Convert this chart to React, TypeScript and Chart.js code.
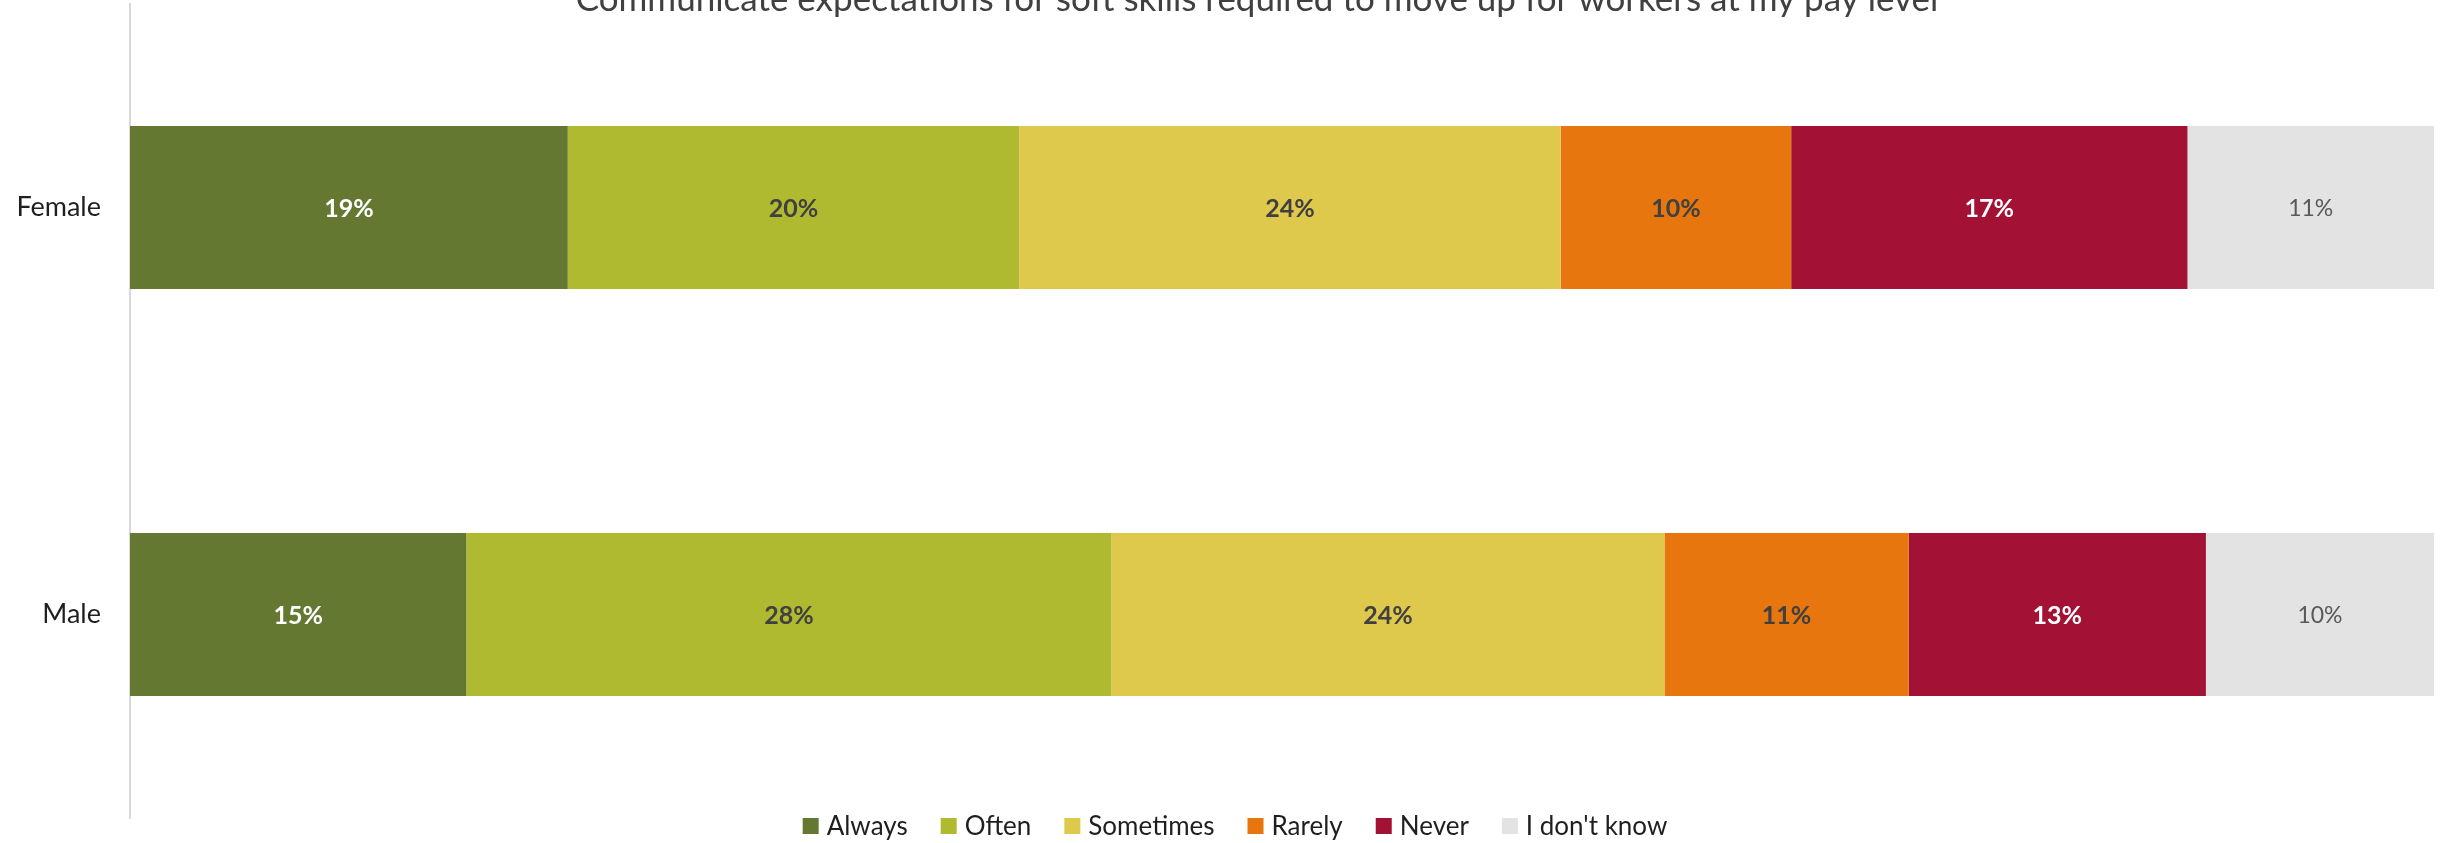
import React, { useEffect, useRef } from 'react';
import { Chart, registerables } from 'chart.js';

Chart.register(...registerables);

const categories = ['Female', 'Male'];
const seriesNames = ['Always', 'Often', 'Sometimes', 'Rarely', 'Never', "I don't know"];
const always = [19.0, 14.6];
const often = [19.6, 28.0];
const sometimes = [23.5, 24.0];
const rarely = [10.0, 10.6];
const never = [17.2, 12.9];
const dontKnow = [10.7, 9.9];
const seriesValues = [always, often, sometimes, rarely, never, dontKnow];
const seriesColors = ['#657832', '#B0BA31', '#DEC94C', '#E6760D', '#A31134', '#E3E3E3'];
const labelColors = ['#FFFFFF', '#404040', '#404040', '#404040', '#FFFFFF', '#595959'];
const labelBold = [true, true, true, true, true, false];
const titleText =
  'Communicate expectations for soft skills required to move up for workers at my pay level';

const FONT = 'Lato, "Open Sans", sans-serif';
const CANVAS_W = 2446;
const CANVAS_H = 847;
const CANVAS_TOP = -4;

const titlePlugin = {
  id: 'cutTitle',
  afterDraw(chart: any) {
    const ctx = chart.ctx;
    ctx.save();
    ctx.font = `35px ${FONT}`;
    ctx.fillStyle = '#404040';
    ctx.textAlign = 'center';
    ctx.textBaseline = 'alphabetic';
    ctx.fillText(titleText, 1257, 11 - CANVAS_TOP);
    ctx.restore();
  },
};

const dataLabelPlugin = {
  id: 'dataLabels',
  afterDatasetsDraw(chart: any) {
    const ctx = chart.ctx;
    ctx.save();
    ctx.textAlign = 'center';
    ctx.textBaseline = 'middle';
    chart.data.datasets.forEach((ds: any, di: number) => {
      const meta = chart.getDatasetMeta(di);
      meta.data.forEach((el: any, i: number) => {
        const v = ds.data[i];
        const c = el.getCenterPoint();
        ctx.font = labelBold[di] ? `bold 25px ${FONT}` : `23px ${FONT}`;
        ctx.fillStyle = labelColors[di];
        ctx.fillText(Math.round(v) + '%', c.x, c.y + 1);
      });
    });
    ctx.restore();
  },
};

const legendPlugin = {
  id: 'customLegend',
  afterDraw(chart: any) {
    const ctx = chart.ctx;
    ctx.save();
    ctx.font = `26px ${FONT}`;
    ctx.textBaseline = 'middle';
    ctx.textAlign = 'left';
    const box = 16;
    const gap = 8;
    const spacing = 33;
    const widths = seriesNames.map((n) => box + gap + ctx.measureText(n).width);
    const total = widths.reduce((a, b) => a + b, 0) + spacing * (widths.length - 1);
    let x = 1235 - total / 2;
    const y = 826 - CANVAS_TOP;
    seriesNames.forEach((n, i) => {
      ctx.fillStyle = seriesColors[i];
      ctx.fillRect(x, y - box / 2, box, box);
      ctx.fillStyle = '#1f1f1f';
      ctx.fillText(n, x + box + gap, y + 1);
      x += widths[i] + spacing;
    });
    ctx.restore();
  },
};

export default function App() {
  const ref = useRef<HTMLCanvasElement>(null);

  useEffect(() => {
    if (!ref.current) return;
    const chart = new Chart(ref.current, {
      type: 'bar',
      data: {
        labels: categories,
        datasets: seriesNames.map((name, i) => ({
          label: name,
          data: seriesValues[i],
          backgroundColor: seriesColors[i],
          borderWidth: 0,
          barPercentage: 0.4,
          categoryPercentage: 1.0,
        })),
      },
      options: {
        indexAxis: 'y',
        responsive: false,
        animation: false,
        events: [],
        layout: { padding: { left: 0, right: 12, top: 8, bottom: 25 } },
        plugins: {
          legend: { display: false },
          tooltip: { enabled: false },
          title: { display: false },
        },
        scales: {
          x: {
            display: false,
            stacked: true,
            min: 0,
            max: 100,
          },
          y: {
            stacked: true,
            grid: { display: false },
            border: { display: true, color: '#D9D9D9', width: 2 },
            ticks: {
              color: '#1f1f1f',
              padding: 21,
              font: { family: FONT, size: 27 },
            },
            afterFit: (scale: any) => {
              scale.width = 130;
              scale.paddingTop = 0;
              scale.paddingBottom = 0;
            },
          },
        },
      },
      plugins: [dataLabelPlugin, legendPlugin, titlePlugin],
    } as any);
    return () => chart.destroy();
  }, []);

  return (
    <div
      style={{
        position: 'fixed',
        left: 0,
        top: 0,
        width: CANVAS_W,
        height: 843,
        overflow: 'hidden',
        background: '#fff',
      }}
    >
      <canvas
        ref={ref}
        width={CANVAS_W}
        height={CANVAS_H}
        style={{ position: 'absolute', left: 0, top: CANVAS_TOP, display: 'block' }}
      />
    </div>
  );
}
